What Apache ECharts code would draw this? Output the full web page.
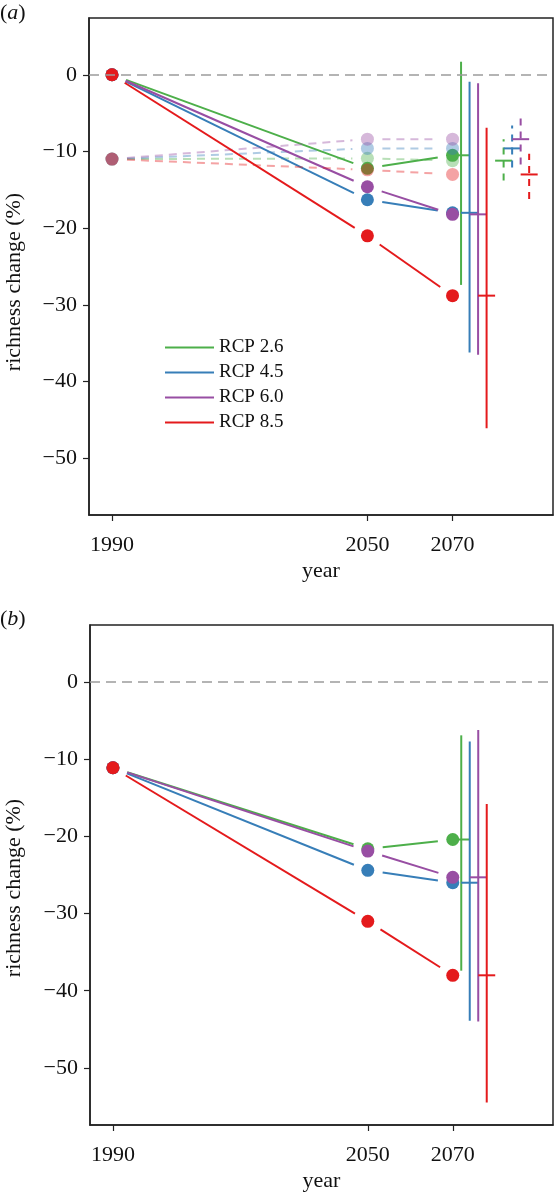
<!DOCTYPE html>
<html>
<head>
<meta charset="utf-8">
<script src="https://cdn.jsdelivr.net/npm/echarts@6/dist/echarts.min.js"></script>
<style>
html,body{margin:0;padding:0;background:#fff;}
#chart{width:556px;height:1193px;}
</style>
</head>
<body>
<div id="chart"></div>
<script>
// ---------- data ----------
const years = [1990, 2050, 2070];
const scenarioNames = ['RCP 2.6', 'RCP 4.5', 'RCP 6.0', 'RCP 8.5'];
const xTickValues = [1990, 2050, 2070];
const yTickValues = [0, -10, -20, -30, -40, -50];

// panel (a): main projections
const aRcp26 = [0, -12.2, -10.5];
const aRcp45 = [0, -16.3, -18.0];
const aRcp60 = [0, -14.6, -18.2];
const aRcp85 = [0, -21.0, -28.8];
// panel (a): alternative (faded, dashed) projections
const aAltRcp26 = [-11.0, -10.9, -11.2];
const aAltRcp45 = [-11.0, -9.6, -9.6];
const aAltRcp60 = [-11.0, -8.4, -8.4];
const aAltRcp85 = [-11.0, -12.4, -13.0];
// panel (a): 2070 ranges
const aRangeLow = [-27.4, -36.2, -36.5, -46.1];
const aRangeHigh = [1.7, -0.9, -1.1, -6.9];
const aAltRangeLow = [-13.8, -12.1, -11.7, -16.2];
const aAltRangeHigh = [-8.4, -6.6, -5.7, -10.3];
const rangeYears = [2072, 2074, 2076, 2078];
const altRangeYears = [2082, 2084, 2086, 2088];

// panel (b)
const bRcp26 = [-11.1, -21.6, -20.4];
const bRcp45 = [-11.1, -24.4, -26.0];
const bRcp60 = [-11.1, -21.9, -25.3];
const bRcp85 = [-11.1, -31.0, -38.0];
const bRangeLow = [-37.4, -43.9, -44.0, -54.5];
const bRangeHigh = [-6.9, -7.7, -6.2, -15.8];

// ---------- style ----------
const colors = ['#4DAF4A', '#377EB8', '#984EA3', '#E41A1C'];
const FONT = "'Liberation Serif', 'DejaVu Serif', serif";
const GAP = 15;

function rgba(hex, a) {
  const n = parseInt(hex.slice(1), 16);
  return 'rgba(' + ((n >> 16) & 255) + ',' + ((n >> 8) & 255) + ',' + (n & 255) + ',' + a + ')';
}

function lineSeries(name, gi, vals, color, dashed) {
  const data = [];
  for (let i = 0; i < years.length - 1; i++) data.push([years[i], vals[i], years[i + 1], vals[i + 1]]);
  return {
    type: 'custom', name: name, coordinateSystem: 'cartesian2d',
    xAxisIndex: gi, yAxisIndex: gi, data: data, silent: true,
    encode: { x: [0, 2], y: [1, 3] },
    itemStyle: { color: color },
    renderItem: function (params, api) {
      const p0 = api.coord([api.value(0), api.value(1)]);
      const p1 = api.coord([api.value(2), api.value(3)]);
      const dx = p1[0] - p0[0], dy = p1[1] - p0[1];
      const L = Math.hypot(dx, dy);
      return {
        type: 'line',
        shape: { x1: p0[0] + dx / L * GAP, y1: p0[1] + dy / L * GAP, x2: p1[0] - dx / L * GAP, y2: p1[1] - dy / L * GAP },
        style: { stroke: color, lineWidth: 2, lineDash: dashed ? [8, 6] : null }
      };
    }
  };
}

function dotSeries(name, gi, vals, color) {
  return {
    type: 'scatter', name: name, xAxisIndex: gi, yAxisIndex: gi, silent: true,
    data: years.map(function (y, i) { return [y, vals[i]]; }),
    symbol: 'circle', symbolSize: 13,
    itemStyle: { color: color, opacity: 1 }
  };
}

function rangeSeries(name, gi, xs, lows, highs, means, dashed, cols) {
  const data = xs.map(function (x, k) { return [x, lows[k], highs[k], means[k], k]; });
  return {
    type: 'custom', name: name, coordinateSystem: 'cartesian2d',
    xAxisIndex: gi, yAxisIndex: gi, data: data, silent: true,
    encode: { x: 0, y: [1, 2] },
    renderItem: function (params, api) {
      const x = api.value(0), lo = api.value(1), hi = api.value(2), m = api.value(3);
      const c = cols[api.value(4)];
      const a = api.coord([x, lo]), b = api.coord([x, hi]);
      const h0 = api.coord([x - 2, m]), h1 = api.coord([x + 2, m]);
      return {
        type: 'group', children: [
          { type: 'line', shape: { x1: a[0], y1: a[1], x2: b[0], y2: b[1] }, style: { stroke: c, lineWidth: 2, lineDash: dashed ? [7, 6] : null } },
          { type: 'line', shape: { x1: h0[0], y1: h0[1], x2: h1[0], y2: h1[1] }, style: { stroke: c, lineWidth: 2 } }
        ]
      };
    }
  };
}

const zeroLine = {
  silent: true, symbol: 'none',
  lineStyle: { color: '#9c9c9c', type: [10, 6], width: 1.5 },
  label: { show: false },
  data: [{ yAxis: 0 }]
};

const aSolid = [aRcp26, aRcp45, aRcp60, aRcp85];
const aAlt = [aAltRcp26, aAltRcp45, aAltRcp60, aAltRcp85];
const bSolid = [bRcp26, bRcp45, bRcp60, bRcp85];

const series = [];
// panel a
for (let k = 0; k < 4; k++) {
  const fc = rgba(colors[k], 0.4);
  series.push(lineSeries('a-alt-' + k, 0, aAlt[k], fc, true));
  series.push(dotSeries('a-altdot-' + k, 0, aAlt[k], fc));
  series.push(lineSeries(scenarioNames[k], 0, aSolid[k], colors[k], false));
  series.push(dotSeries('a-dot-' + k, 0, aSolid[k], colors[k]));
}
series[1].markLine = zeroLine;
series.push(rangeSeries('a-range', 0, rangeYears, aRangeLow, aRangeHigh, aSolid.map(function (v) { return v[2]; }), false, colors));
series.push(rangeSeries('a-altrange', 0, altRangeYears, aAltRangeLow, aAltRangeHigh, aAlt.map(function (v) { return v[2]; }), true, colors));
// panel b
for (let k = 0; k < 4; k++) {
  series.push(lineSeries('b-line-' + k, 1, bSolid[k], colors[k], false));
  const d = dotSeries('b-dot-' + k, 1, bSolid[k], colors[k]);
  if (k === 0) d.markLine = zeroLine;
  series.push(d);
}
series.push(rangeSeries('b-range', 1, rangeYears, bRangeLow, bRangeHigh, bSolid.map(function (v) { return v[2]; }), false, colors));

function fmtY(v) { return v < 0 ? '\u2212' + Math.abs(v) : String(v); }

function xAxis(gi) {
  return {
    type: 'value', gridIndex: gi, min: 1984.6, max: 2093.6,
    name: 'year', nameLocation: 'middle', nameGap: 45,
    nameTextStyle: { fontFamily: FONT, fontSize: 22, color: '#111' },
    axisLine: { show: true, onZero: false, lineStyle: { color: '#222', width: 1.5 } },
    axisTick: { show: true, length: 6, customValues: xTickValues, lineStyle: { color: '#222', width: 1.2 } },
    axisLabel: { customValues: xTickValues, margin: 19, fontFamily: FONT, fontSize: 22, color: '#111', formatter: function (v) { return String(v); } },
    splitLine: { show: false }
  };
}
function yAxis(gi) {
  return {
    type: 'value', gridIndex: gi, min: -57.4, max: 7.4,
    axisLine: { show: true, onZero: false, lineStyle: { color: '#222', width: 1.5 } },
    axisTick: { show: true, length: 6, customValues: yTickValues, lineStyle: { color: '#222', width: 1.2 } },
    axisLabel: { customValues: yTickValues, margin: 12, fontFamily: FONT, fontSize: 22, color: '#111', formatter: fmtY },
    splitLine: { show: false }
  };
}

function yTitle(cy) {
  return { type: 'text', x: 14, y: cy, rotation: Math.PI / 2,
    style: { text: 'richness change (%)', font: '22px ' + FONT, fill: '#111', align: 'center', verticalAlign: 'middle' } };
}
function panelLabel(letter, top) {
  return { type: 'text', left: 0, top: top, style: { text: '({i|' + letter + '})', font: '22px ' + FONT, fill: '#111',
    rich: { i: { fontStyle: 'italic', fontFamily: FONT, fontSize: 22, fill: '#111' } } } };
}

const chart = echarts.init(document.getElementById('chart'), null, { renderer: 'canvas' });
chart.setOption({
  animation: false,
  backgroundColor: '#fff',
  grid: [
    { left: 89, top: 18, width: 464, height: 497, show: true, borderColor: '#222', borderWidth: 1.5, backgroundColor: 'transparent' },
    { left: 90, top: 625, width: 463, height: 500, show: true, borderColor: '#222', borderWidth: 1.5, backgroundColor: 'transparent' }
  ],
  xAxis: [xAxis(0), xAxis(1)],
  yAxis: [yAxis(0), yAxis(1)],
  legend: {
    data: scenarioNames, orient: 'vertical', left: 160, top: 333, itemGap: 6,
    itemWidth: 49, itemHeight: 2, icon: 'rect', selectedMode: false,
    textStyle: { fontFamily: FONT, fontSize: 19, color: '#111' }
  },
  graphic: [
    panelLabel('a', 2), panelLabel('b', 608),
    yTitle(282), yTitle(888)
  ],
  series: series
});
</script>
</body>
</html>
